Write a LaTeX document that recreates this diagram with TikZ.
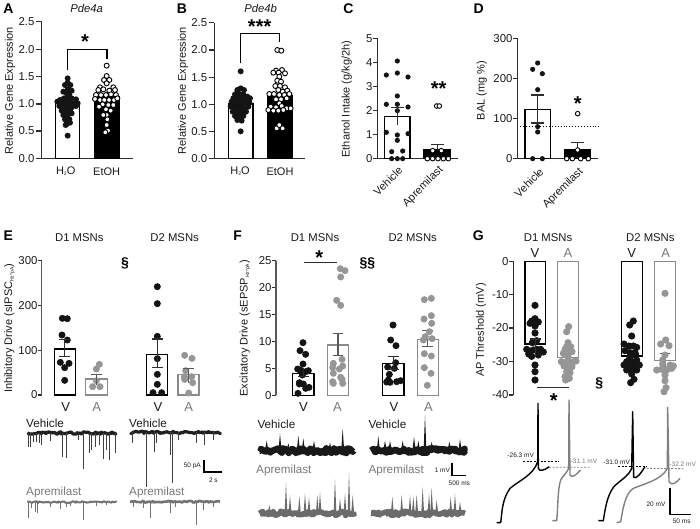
\documentclass[tikz,border=0pt]{standalone}
\usepackage{fontspec}
\setmainfont{Liberation Sans}
\usetikzlibrary{decorations.pathmorphing}
\definecolor{axisgray}{HTML}{2E2E2E}
\definecolor{dotgray}{HTML}{969696}
\definecolor{bargray}{HTML}{8A8A8A}
\definecolor{txtgray}{HTML}{787878}
\definecolor{txtdark}{HTML}{1A1A1A}
\newcommand{\fsize}[1]{\fontsize{#1}{#1}\selectfont}
\newcommand{\lowtxt}[1]{\raisebox{-1.5pt}{\fsize{5}#1}}
\tikzset{
	axisline/.style={line width=1.3pt,color=axisgray},
	tick/.style={line width=1.2pt,color=axisgray},
	panel/.style={font=\fsize{14}\bfseries,inner sep=0pt},
	title/.style={font=\fsize{11.3},inner sep=0pt,color=txtdark},
	ticklab/.style={font=\fsize{11.4},inner sep=0pt,anchor=east,color=txtdark},
	ylab/.style={font=\fsize{11},inner sep=0pt,rotate=90,color=txtdark},
	xlab/.style={font=\fsize{11},inner sep=0pt,color=txtdark},
	slantlab/.style={font=\fsize{11},inner sep=0pt,rotate=45,anchor=east,color=txtdark},
	sigstar/.style={font=\fsize{20}\bfseries,inner sep=0pt,anchor=north},
	sect/.style={font=\fsize{14}\bfseries,inner sep=0pt,color=black},
	tinylab/.style={font=\fsize{6.5},inner sep=0pt,color=txtdark},
	blackbar/.style={draw=black,line width=1.6pt,fill=white},
	greybar/.style={draw=bargray,line width=1.6pt,fill=white},
	solidbar/.style={draw=black,line width=1.6pt,fill=black},
	errbar/.style={line width=1.2pt,color=axisgray},
	blackdot/.style={fill=black!92},
	greydot/.style={fill=dotgray},
	whitedot/.style={fill=white,draw=black,line width=.9pt},
	blackband/.style={color=black!90,line join=round,decorate,decoration={random steps,segment length=1.5pt,amplitude=2.4pt}},
	greyband/.style={color=black!58,line join=round,decorate,decoration={random steps,segment length=1.5pt,amplitude=2.2pt}},
	thinblack/.style={color=black!88,line join=round,decorate,decoration={random steps,segment length=1.5pt,amplitude=1.2pt}},
	thingrey/.style={color=black!55,line join=round,decorate,decoration={random steps,segment length=1.5pt,amplitude=.9pt}},
	aptrace/.style={line width=1.4pt,line join=round},
	scalebar/.style={line width=1.2pt,color=black}
}
\begin{document}
\begin{tikzpicture}[x=0.33333pt,y=-0.33333pt]
	\useasboundingbox (0,0) rectangle (2100,1584);
	% A
	\node[panel] (letterA) at (25,26) {A};
	\node[title] (titleA) at (260,24) {\itshape Pde4a};
	\node[ylab] (ylabA) at (30,272) {Relative Gene Expression};
	\foreach \y/\t in {65/2.5,148/2.0,230/1.5,312/1.0,393/0.5,475/0.0} {
		\draw[tick] (108,\y)--(125,\y);
		\node[ticklab] (tickA\t) at (104,\y) {\t};
	}
	\draw[axisline] (125,65)--(125,475);
	\draw[axisline] (108,475)--(400,475);
	\draw[blackbar] (167,475) rectangle (238,308);
	\draw[solidbar] (283,475) rectangle (358,290);
	\foreach \x/\y in {203/235,203/248,195/255,211/255,203/268,190/275,215/272,200/280,208/283,180/300,192/295,203/295,215/295,228/298,172/305,185/308,198/308,210/308,222/310,233/310,178/318,190/320,203/320,215/322,228/318,185/332,198/332,210/332,190/345,203/345,215/340,195/358,208/358,200/372,210/368,197/375,203/407}
		\fill[blackdot] (\x,\y) circle (3pt);
	\foreach \x/\y in {320/197,320/228,312/240,328/240,320/250,300/262,340/262,295/270,310/268,328/272,345/270,288/285,303/285,318/285,333/283,348/285,285/297,300/300,313/300,327/300,342/300,352/295,308/313,325/315,340/315,297/320,318/328,332/332,320/345,310/345,322/358,320/375,324/392,316/397}
		\draw[whitedot] (\x,\y) circle (2.5pt);
	\draw[line width=1.2pt] (203,210)--(203,148)--(321,148)--(321,178);
	\node[sigstar] (starA) at (255,103) {*};
	\node[xlab] (h2oA) at (197,514) {H\lowtxt{2}O};
	\node[xlab] (etohA) at (320,514) {EtOH};
	% B
	\node[panel] (letterB) at (546,26) {B};
	\node[title] (titleB) at (782,24) {\itshape Pde4b};
	\node[ylab] (ylabB) at (549,272) {Relative Gene Expression};
	\foreach \y/\t in {68/2.5,150/2.0,232/1.5,313/1.0,395/0.5,476/0.0} {
		\draw[tick] (626,\y)--(643,\y);
		\node[ticklab] (tickB\t) at (622,\y) {\t};
	}
	\draw[axisline] (643,68)--(643,476);
	\draw[axisline] (626,476)--(915,476);
	\draw[blackbar] (686,476) rectangle (759,312);
	\draw[solidbar] (802,476) rectangle (877,288);
	\foreach \x/\y in {722/214,722/265,712/270,732/270,705/283,718/282,730/283,742/290,700/295,712/295,725/295,738/298,750/295,695/305,708/308,722/308,735/308,748/308,692/320,705/322,718/322,730/322,745/320,698/335,712/335,725/335,738/335,705/348,718/348,730/348,712/360,725/362,722/394}
		\fill[blackdot] (\x,\y) circle (3pt);
	\foreach \x/\y in {832/150,844/152,828/212,846/210,820/218,836/218,855/220,838/230,832/242,843/245,826/258,840/258,855/262,835/270,848/275,862/272,808/282,822/282,838/285,853/285,868/282,828/298,843/298,860/295,838/310,812/320,828/322,845/318,860/325,872/325,805/330,820/332,835/332,850/330,830/385,848/385,838/375}
		\draw[whitedot] (\x,\y) circle (2.5pt);
	\draw[line width=1.2pt] (721,190)--(721,101)--(839,101)--(839,125);
	\node[sigstar] (starB) at (779,60) {***};
	\node[xlab] (h2oB) at (720,514) {H\lowtxt{2}O};
	\node[xlab] (etohB) at (840,514) {EtOH};
	\begin{scope}[xshift=350pt]
		% C
		\node[panel] (letterC) at (-5,26) {C};
		\node[ylab] (ylabC) at (-10,297) {Ethanol Intake (g/kg/2h)};
		\foreach \y/\t in {115/5,188/4,260/3,332/2,404/1,476/0} {
			\draw[tick] (70,\y)--(82,\y);
			\node[ticklab] (tickC\t) at (68,\y) {\t};
		}
		\draw[axisline] (82,115)--(82,476);
		\draw[axisline] (70,476)--(323,476);
		\draw[blackbar] (104,476) rectangle (180,349);
		\draw[solidbar] (222,476) rectangle (302,450);
		\foreach \x/\y in {142/183,109/225,142/219,174/231,142/288,109/313,142/313,174/321,142/332,109/397,174/401,142/405,142/421,125/455,158/453,125/476,158/476,142/476}
			\fill[blackdot] (\x,\y) circle (2.6pt);
		\draw[errbar] (142,323)--(142,375) (122,323)--(162,323);
		\draw[errbar] (262,434)--(262,450) (243,434)--(281,434);
		\foreach \x/\y in {232/476,248/476,264/476,280/476,295/476,248/452,274/452,260/318,268/318}
			\draw[whitedot] (\x,\y) circle (2.3pt);
		\node[sigstar] (starC) at (266,245) {**};
		\node[slantlab] (vehC) at (152,505) {Vehicle};
		\node[slantlab] (aprC) at (275,505) {Apremilast};
		% D
		\node[panel] (letterD) at (386,26) {D};
		\node[ylab] (ylabD) at (395,272) {BAL (mg \%)};
		\foreach \y/\t in {115/300,235/200,355/100,476/0} {
			\draw[tick] (490,\y)--(503,\y);
			\node[ticklab] (tickD\t) at (488,\y) {\t};
		}
		\draw[axisline] (503,115)--(503,476);
		\draw[axisline] (490,476)--(745,476);
		\draw[blackbar] (525,476) rectangle (601,328);
		\draw[solidbar] (645,476) rectangle (722,450);
		\draw[line width=.9pt,dotted] (510,379)--(745,379);
		\foreach \x/\y in {563/189,548/208,577/221,563/269,563/380,563/396,548/476,577/476}
			\fill[blackdot] (\x,\y) circle (2.6pt);
		\draw[errbar] (563,285)--(563,369) (543,285)--(583,285) (543,369)--(583,369);
		\draw[errbar] (683,427)--(683,450) (663,427)--(703,427);
		\foreach \x/\y in {683/341,683/450,650/476,667/476,692/476,715/476}
			\draw[whitedot] (\x,\y) circle (2.3pt);
		\node[sigstar] (starD) at (683,290) {*};
		\node[slantlab] (vehD) at (575,510) {Vehicle};
		\node[slantlab] (aprD) at (695,510) {Apremilast};
	\end{scope}
	\begin{scope}[yshift=-220pt]
		% E
		\node[panel] (letterE) at (25,48) {E};
		\node[title] (d1E) at (238,52) {D1 MSNs};
		\node[title] (d2E) at (524,52) {D2 MSNs};
		\node[ylab] (ylabE) at (28,325) {Inhibitory Drive (sIPSC\lowtxt{Hz*pA})};
		\foreach \y/\t in {122/300,257/200,392/100,525/0} {
			\draw[tick] (115,\y)--(125,\y);
			\node[ticklab] (tickE\t) at (113,\y) {\t};
		}
		\draw[line width=1.6pt,color=black!65] (125,122)--(125,525);
		\draw[blackbar] (163,525) rectangle (226,387);
		\draw[greybar] (257,525) rectangle (322,477);
		\draw[blackbar] (440,525) rectangle (503,404);
		\draw[greybar] (534,525) rectangle (597,463);
		\foreach \x/\y in {187/295,202/296,186/345,202/360,181/427,207/430,194/443,194/481,472/200,472/251,472/349,472/416,472/463,472/493,459/518,485/518}
			\fill[blackdot] (\x,\y) circle (3.5pt);
		\foreach \x/\y in {298/433,289/447,289/482,278/500,300/500,554/406,576/415,557/452,575/470,554/478,578/488,566/519,553/470}
			\fill[greydot] (\x,\y) circle (3.5pt);
		\draw[errbar] (194,358)--(194,410) (178,358)--(210,358) (178,410)--(210,410);
		\draw[errbar,color=black!65] (289,463)--(289,495) (273,463)--(305,463);
		\draw[errbar] (472,357)--(472,443) (456,357)--(488,357) (456,443)--(488,443);
		\draw[errbar,color=black!65] (566,445)--(566,490) (550,445)--(582,445);
		\node[sect] (sectE) at (375,130) {§};
	\end{scope}
	\begin{scope}[yshift=-400pt]
		\node[title,font=\fsize{13}] (vE1) at (197,20) {V};
		\node[title,font=\fsize{13},color=txtgray] (aE1) at (290,20) {A};
		\node[title,font=\fsize{13}] (vE2) at (474,20) {V};
		\node[title,font=\fsize{13},color=txtgray] (aE2) at (566,20) {A};
		\node[title,font=\fsize{11.7},anchor=west] (vehE1) at (78,70) {Vehicle};
		\node[title,font=\fsize{11.7},anchor=west] (vehE2) at (387,70) {Vehicle};
		\node[title,font=\fsize{11.7},anchor=west,color=txtgray] (aprE1) at (78,278) {Apremilast};
		\node[title,font=\fsize{11.7},anchor=west,color=txtgray] (aprE2) at (387,278) {Apremilast};
		\draw[thinblack,line width=3.2pt] (82,99)--(350,99);
		\foreach \x/\y in {86/140,92/140,100/125,108/125,117/130,125/135,152/122,188/170,200/175,235/120,251/208,267/160,275/150,285/140,298/135,310/178,318/150,327/180,345/160}
			\draw[line width=1pt,color=black!75] (\x,99)--(\x,\y);
		\draw[thinblack,line width=3.2pt] (392,97)--(660,97);
		\foreach \x/\y in {398/130,440/260,462/155,470/130,512/165,516/250,535/120,590/130,612/135,640/120}
			\draw[line width=1pt,color=black!75] (\x,97)--(\x,\y);
		\draw[thingrey,line width=2pt] (82,306)--(350,306);
		\foreach \x/\y in {85/355,95/325,105/335,112/338,150/322,180/328,198/322,212/318,250/360,290/318,320/316}
			\draw[line width=1pt,color=black!55] (\x,306)--(\x,\y);
		\draw[thingrey,line width=2.6pt] (390,305)--(660,305);
		\foreach \x/\y in {400/322,430/325,450/355,510/338,525/322,590/375,610/330,640/322}
			\draw[line width=1pt,color=black!55] (\x,305)--(\x,\y);
		\coordinate (barE1) at (612,180);
		\coordinate (barE2) at (612,216);
		\coordinate (barE3) at (667,216);
		\draw[scalebar] (barE1)--(barE2)--(barE3);
		\node[tinylab] (pa) at (577,197) {50 pA};
		\node[tinylab] (sec) at (640,240) {2 s};
	\end{scope}
	\begin{scope}[xshift=240pt,yshift=-220pt]
		% F
		\node[panel] (letterF) at (-7,48) {F};
		\node[title] (d1F) at (225,52) {D1 MSNs};
		\node[title] (d2F) at (518,52) {D2 MSNs};
		\node[ylab] (ylabF) at (15,325) {Excitatory Drive (sEPSP\lowtxt{Hz*pA})};
		\foreach \y/\t in {122/25,203/20,284/15,365/10,445/5,526/0} {
			\draw[tick] (97,\y)--(108,\y);
			\node[ticklab] (tickF\t) at (95,\y) {\t};
		}
		\draw[line width=1.6pt,color=black!65] (108,122)--(108,526);
		\draw[blackbar] (158,526) rectangle (222,460);
		\draw[greybar] (262,526) rectangle (326,375);
		\draw[blackbar] (428,526) rectangle (492,431);
		\draw[greybar] (532,526) rectangle (596,358);
		\draw[errbar,color=black!65] (294,340)--(294,406) (278,340)--(310,340) (278,406)--(310,406);
		\draw[errbar,color=black!65] (563,331)--(563,379) (547,331)--(579,331) (547,379)--(579,379);
		\foreach \x/\y in {189/368,180/392,197/403,189/432,180/450,173/447,197/455,205/452,187/465,178/492,190/492,178/488,207/502,197/505,174/520,459/315,452/360,468/377,467/428,443/441,463/445,448/463,445/480,440/486,450/487,470/485,482/482}
			\fill[blackdot] (\x,\y) circle (3.5pt);
		\foreach \x/\y in {301/146,315/152,302/171,290/241,302/256,306/418,280/430,308/438,278/443,298/447,280/460,302/472,278/485,306/478,308/490,280/490,553/239,574/235,552/297,574/287,575/310,568/335,556/350,576/356,550/360,553/401,574/408,553/443,573/460,562/496}
			\fill[greydot] (\x,\y) circle (3.5pt);
		\draw[errbar] (190,445)--(190,470) (174,470)--(206,470);
		\draw[errbar] (460,409)--(460,448) (444,409)--(476,409) (444,448)--(476,448);
		\draw[line width=1.3pt,color=axisgray] (192,128)--(290,128);
		\node[sigstar] (starF) at (238,92) {*};
		\node[sect] (sectF) at (382,130) {§§};
	\end{scope}
	\begin{scope}[xshift=240pt,yshift=-400pt]
		\node[title,font=\fsize{13}] (vF1) at (190,20) {V};
		\node[title,font=\fsize{13},color=txtgray] (aF1) at (292,20) {A};
		\node[title,font=\fsize{13}] (vF2) at (462,20) {V};
		\node[title,font=\fsize{13},color=txtgray] (aF2) at (565,20) {A};
		\node[title,font=\fsize{11.7},anchor=west] (vehF1) at (52,74) {Vehicle};
		\node[title,font=\fsize{11.7},anchor=west] (vehF2) at (385,74) {Vehicle};
		\node[title,font=\fsize{11.7},anchor=west,color=txtgray] (aprF1) at (48,212) {Apremilast};
		\node[title,font=\fsize{11.7},anchor=west,color=txtgray] (aprF2) at (385,210) {Apremilast};
		\draw[blackband,line width=6.5pt] (58,152)--(340,152);
		\foreach \x/\y in {80/122,120/100,145/130,175/107,190/115,222/122,270/128,308/85}
			\fill[color=black!90] (\x-4,145)--(\x,\y)--(\x+4,145)--cycle;
		\draw[blackband,line width=6.5pt] (393,152)--(675,152);
		\foreach \x/\y in {415/108,435/122,450/122,488/122,522/110,535/122,555/45,575/125,628/125,660/118}
			\fill[color=black!90] (\x-4,145)--(\x,\y)--(\x+4,145)--cycle;
		\draw[greyband,line width=5.5pt] (58,340)--(340,340);
		\foreach \x/\y in {88/315,138/248,150/285,178/288,195/280,207/290,232/285,240/275,285/238,300/295,315/280,327/217,338/285}
			\fill[color=black!58] (\x-4,335)--(\x,\y)--(\x+4,335)--cycle;
		\draw[greyband,line width=5.5pt] (393,340)--(675,340);
		\foreach \x/\y in {457/290,485/285,510/285,520/290,530/285,548/260,567/280,575/262,590/300,632/290,645/282,660/305}
			\fill[color=black!58] (\x-4,335)--(\x,\y)--(\x+4,335)--cycle;
		\coordinate (barF1) at (636,188);
		\coordinate (barF2) at (636,226);
		\coordinate (barF3) at (677,226);
		\draw[scalebar] (barF1)--(barF2)--(barF3);
		\node[tinylab] (mv) at (607,210) {1 mV};
		\node[tinylab] (msF) at (658,250) {500 ms};
	\end{scope}
	\begin{scope}[xshift=470pt,yshift=-220pt]
		% G
		\node[panel] (letterG) at (25,48) {G};
		\node[title] (d1G) at (234,52) {D1 MSNs};
		\node[title] (d2G) at (541,52) {D2 MSNs};
		\node[title,font=\fsize{13}] (vG1) at (195,98) {V};
		\node[title,font=\fsize{13},color=txtgray] (aG1) at (294,98) {A};
		\node[title,font=\fsize{13}] (vG2) at (485,98) {V};
		\node[title,font=\fsize{13},color=txtgray] (aG2) at (587,98) {A};
		\node[ylab] (ylabG) at (33,330) {AP Threshold (mV)};
		\foreach \y/\t in {124/0,224/-10,324/-20,425/-30,525/-40} {
			\draw[tick] (118,\y)--(130,\y);
			\node[ticklab] (tickG\t) at (116,\y) {\t};
		}
		\draw[axisline] (130,124)--(130,525);
		\draw[blackbar] (165,124) rectangle (227,372);
		\draw[greybar] (263,124) rectangle (325,413);
		\draw[blackbar] (455,124) rectangle (517,408);
		\draw[greybar] (554,124) rectangle (616,422);
		\draw[errbar,color=black!65] (294,404)--(294,425) (278,404)--(310,404);
		\draw[errbar,color=black!65] (585,400)--(585,445) (569,400)--(601,400);
		\foreach \x/\y in {195/256,185/303,195/296,205/306,180/310,195/318,195/339,200/362,187/368,170/388,180/393,190/390,200/388,212/388,220/396,176/402,185/409,205/405,195/435,195/455,195/480,490/303,479/315,485/348,462/372,477/378,490/378,500/382,465/392,480/398,495/398,480/412,497/405,470/425,485/425,500/420,462/435,478/438,492/438,508/435,470/450,485/450,500/450,485/462,492/478,482/488}
			\fill[blackdot] (\x,\y) circle (3.6pt);
		\foreach \x/\y in {296/320,290/335,294/368,290/380,302/380,285/388,298/392,306/395,280/400,294/410,274/425,285/427,297/425,310/425,318/423,282/438,294/440,306/440,290/455,300/458,285/470,298/475,287/480,585/220,587/360,572/372,597/377,585/405,578/420,578/432,600/435,610/438,560/450,575/448,590/450,605/445,585/465,585/482,588/503,582/515}
			\fill[greydot] (\x,\y) circle (3.6pt);
		\draw[errbar] (196,357)--(196,410) (180,357)--(212,357);
		\draw[line width=1.3pt,color=axisgray] (200,503)--(298,503);
		\node[sect] (sectG) at (388,490) {§};
		\node[sigstar] (starG) at (251,520) {*};
	\end{scope}
	\begin{scope}[xshift=470pt,yshift=-400pt]
		\draw[aptrace,color=black] (80,368)--(92,368) .. controls (96,340) and (95,300) .. (120,265) .. controls (150,240) and (190,225) .. (203,185) -- (204,10) -- (205,205) .. controls (208,215) and (222,212) .. (238,200);
		\draw[aptrace,color=black!50] (247,362)--(260,362) .. controls (264,330) and (262,270) .. (272,240) .. controls (280,225) and (290,220) .. (296,205) -- (297,0) -- (300,225) .. controls (305,236) and (318,225) .. (332,210);
		\draw[aptrace,color=black] (385,362)--(400,362) .. controls (405,330) and (410,290) .. (430,262) .. controls (450,240) and (475,230) .. (485,205) -- (488,35) -- (491,232) .. controls (500,238) and (512,220) .. (525,200);
		\draw[aptrace,color=black!50] (440,368)--(452,365) .. controls (458,330) and (465,280) .. (490,265) .. controls (520,252) and (575,240) .. (592,205) -- (593,22) -- (597,245) .. controls (605,258) and (618,250) .. (630,235);
		\draw[line width=.8pt,dash pattern=on 2pt off 1.5pt] (160,183)--(268,183) (445,200)--(530,200);
		\draw[line width=.8pt,dash pattern=on 2pt off 1.5pt,color=black!50] (237,202)--(358,202) (530,205)--(645,206);
		\node[tinylab] (thr1) at (152,167) {-26.3 mV};
		\node[tinylab,color=txtgray] (thr2) at (342,185) {-31.1 mV};
		\node[tinylab] (thr3) at (440,186) {-31.0 mV};
		\node[tinylab,color=txtgray] (thr4) at (638,192) {-32.2 mV};
		\coordinate (barG1) at (600,265);
		\coordinate (barG2) at (600,343);
		\coordinate (barG3) at (662,343);
		\draw[scalebar] (barG1)--(barG2)--(barG3);
		\node[tinylab] (mvG) at (558,312) {20 mV};
		\node[tinylab] (msG) at (635,365) {50 ms};
	\end{scope}
\end{tikzpicture}
\end{document}
